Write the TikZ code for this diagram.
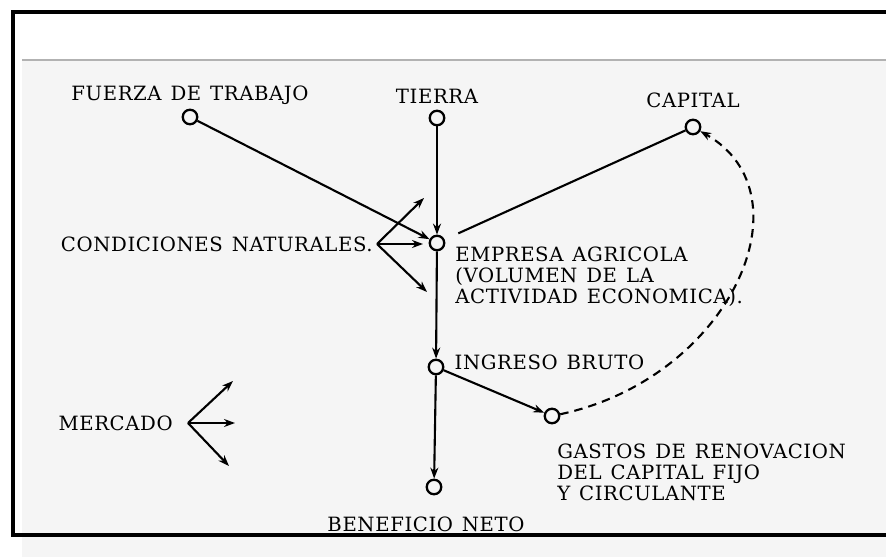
\documentclass[tikz,border=0pt]{standalone}
\usepackage{fontspec}
\setmainfont{DejaVu Serif}[LetterSpace=3, WordSpace=1.3]
\usetikzlibrary{positioning,arrows.meta}
\tikzset{
  point/.style={circle, draw, line width=1.3pt, minimum size=0.29cm, inner sep=0pt},
  arrow/.style={line width=1.2pt, -{Stealth[length=0.22cm, width=0.16cm]}},
  link/.style={line width=1.2pt},
  dasharrow/.style={arrow, dash pattern=on 0.17cm off 0.12cm},
  caption/.style={inner sep=0pt, font=\fontsize{11.2}{11.8}\selectfont, align=left, text=black}
}

\begin{document}
\begin{tikzpicture}[x=0.02cm, y=-0.02cm]
  \useasboundingbox (0,0) rectangle (886,557);
  % Paper and frame
  \fill[black!4] (22,60) rectangle (886,557);
  \draw[black!30, line width=0.6pt] (22,60) -- (886,60);
  \draw[line width=2.3pt] (886,12) -- (13,12) -- (13,535) -- (886,535);

  % Points
  \node (fuerza) [point] at (190,117) {};
  \node (tierra) [point] at (437,118) {};
  \node (capital) [point] at (693,127) {};
  \node (empresa) [point] at (437,243) {};
  \node (ingreso) [point] at (436,367) {};
  \node (gastos) [point] at (552,416) {};
  \node (beneficio) [point] at (434,487) {};
  \coordinate (cn) at (377,244);
  \coordinate (mk) at (188,423);

  % Labels
  \node [caption, above=0.08cm of fuerza] {FUERZA DE TRABAJO};
  \node [caption, above=0.12cm of tierra] {TIERRA};
  \node [caption, above=0.2cm of capital] {CAPITAL};
  \node [caption, anchor=north west] at (455,247) {EMPRESA AGRICOLA\\(VOLUMEN DE LA\\ACTIVIDAD ECONOMICA).};
  \node [caption, left=0.08cm of cn] {CONDICIONES NATURALES.};
  \node [caption, right=0.2cm of ingreso, yshift=0.1cm] {INGRESO BRUTO};
  \node [caption, anchor=north west] at (557,444) {GASTOS DE RENOVACION\\DEL CAPITAL FIJO\\Y CIRCULANTE};
  \node [caption, below=0.42cm of beneficio, xshift=-0.16cm] {BENEFICIO NETO};
  \node [caption, left=0.3cm of mk] {MERCADO};

  % Arrows
  \draw [arrow] (fuerza) -- (empresa);
  \draw [arrow] (tierra) -- (empresa);
  \draw [link, shorten <=0.3cm] (empresa) -- (capital);
  \draw [arrow] (empresa) -- (ingreso);
  \draw [arrow] (ingreso) -- (beneficio);
  \draw [arrow] (ingreso) -- (gastos);
  \draw [dasharrow] (gastos) .. controls (730,378) and (812,195) .. (capital);

  % Outside factors
  \coordinate (cn1) at (424,198);
  \coordinate (cn2) at (423,244);
  \coordinate (cn3) at (427,292);
  \draw [arrow] (cn) -- (cn1);
  \draw [arrow] (cn) -- (cn2);
  \draw [arrow] (cn) -- (cn3);
  \coordinate (mk1) at (233,381);
  \coordinate (mk2) at (235,423);
  \coordinate (mk3) at (229,466);
  \draw [arrow] (mk) -- (mk1);
  \draw [arrow] (mk) -- (mk2);
  \draw [arrow] (mk) -- (mk3);
\end{tikzpicture}
\end{document}
